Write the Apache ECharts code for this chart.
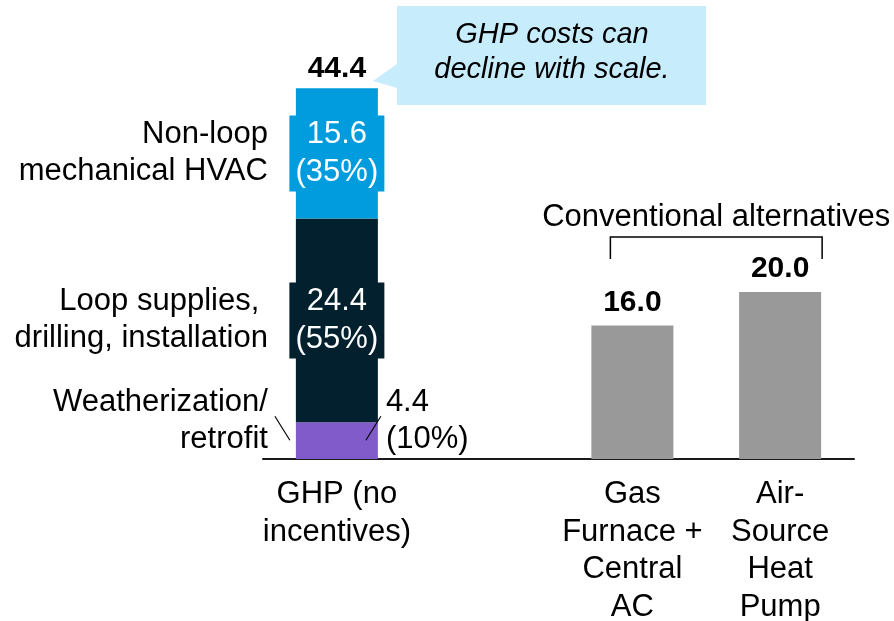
<!DOCTYPE html>
<html>
<head>
<meta charset="utf-8">
<title>GHP installed cost comparison</title>
<script src="https://cdn.jsdelivr.net/npm/echarts@6/dist/echarts.min.js"></script>
<style>
  html, body { margin: 0; padding: 0; background: #ffffff; }
  #chart { width: 894px; height: 621px; }
</style>
</head>
<body>
<div id="chart"></div>
<script>
// Installed cost by system type (thousand $)
const categories = ['GHP (no\nincentives)', '', 'Gas\nFurnace +\nCentral\nAC', 'Air-\nSource\nHeat\nPump'];
const weatherization = [4.4, '-', '-', '-'];
const loopSupplies = [24.4, '-', '-', '-'];
const nonLoopHvac = [15.6, '-', '-', '-'];
const conventional = ['-', '-', 16.0, 20.0];
const segmentNames = ['Weatherization/\nretrofit', 'Loop supplies, \ndrilling, installation', 'Non-loop\nmechanical HVAC'];

const FONT = "'Liberation Sans', Arial, Helvetica, sans-serif";
const FS = 31;
const C_PURPLE = '#805BC9';
const C_DARK = '#03202F';
const C_BLUE = '#009CDE';
const C_GRAY = '#999999';
const C_CALLOUT = '#C7EDFC';

const ghpTotal = [0, 1, 2, 3].map(i => {
  const parts = [weatherization[i], loopSupplies[i], nonLoopHvac[i]].filter(v => v !== '-');
  return parts.length ? parts.reduce((a, b) => a + b, 0) : '-';
});
const pct = (v, i) => Math.round(v / ghpTotal[i] * 100) + '%';
const zeros = ghpTotal.map(v => (v === '-' ? '-' : 0));

const chart = echarts.init(document.getElementById('chart'), null, { renderer: 'canvas' });

const common = { type: 'bar', barWidth: 82, barGap: '-100%', animation: false };

const valueBox = (color) => ({
  show: true,
  position: 'inside',
  color: '#ffffff',
  fontFamily: FONT,
  fontSize: FS,
  lineHeight: 38,
  width: 95,
  align: 'center',
  backgroundColor: color,
  padding: 0,
});

const nameLabel = (offsetY) => ({
  show: true,
  position: 'left',
  distance: 28,
  offset: [0, offsetY],
  color: '#000000',
  fontFamily: FONT,
  fontSize: FS,
  lineHeight: 37,
  align: 'right',
});

const option = {
  animation: false,
  backgroundColor: '#ffffff',
  grid: { left: 263, right: 40, top: 41.5, bottom: 162, containLabel: false, outerBoundsMode: 'none' },
  xAxis: {
    type: 'category',
    data: categories,
    axisLine: { show: true, lineStyle: { color: '#1a1a1a', width: 2 } },
    axisTick: { show: false },
    splitLine: { show: false },
    axisLabel: {
      interval: 0,
      color: '#000000',
      fontFamily: FONT,
      fontSize: FS,
      lineHeight: 37.5,
      margin: 17,
    },
  },
  yAxis: { type: 'value', min: 0, max: 50, show: false, splitLine: { show: false } },
  series: [
    {
      ...common, name: 'Weatherization/retrofit', stack: 'ghp', data: weatherization,
      itemStyle: { color: C_PURPLE },
      label: {
        show: true, position: 'right', distance: 8, offset: [0, -20],
        color: '#000000', fontFamily: FONT, fontSize: FS, lineHeight: 37, align: 'left',
        formatter: p => p.value.toFixed(1) + '\n(' + pct(p.value, p.dataIndex) + ')',
      },
    },
    {
      ...common, name: 'Loop supplies, drilling, installation', stack: 'ghp', data: loopSupplies,
      itemStyle: { color: C_DARK },
      label: { ...valueBox(C_DARK), formatter: p => p.value.toFixed(1) + '\n(' + pct(p.value, p.dataIndex) + ')' },
    },
    {
      ...common, name: 'Non-loop mechanical HVAC', stack: 'ghp', data: nonLoopHvac,
      itemStyle: { color: C_BLUE },
      label: { ...valueBox(C_BLUE), formatter: p => p.value.toFixed(1) + '\n(' + pct(p.value, p.dataIndex) + ')' },
    },
    {
      ...common, name: 'Conventional', stack: 'ghp', data: conventional,
      itemStyle: { color: C_GRAY },
      label: {
        show: true, position: 'top', distance: 8,
        color: '#000000', fontFamily: FONT, fontSize: 30, fontWeight: 'bold',
        formatter: p => p.value.toFixed(1),
      },
    },
    // Segment names, drawn as labels on transparent twins of each segment
    {
      ...common, name: 'n0', stack: 'names', data: weatherization, silent: true,
      itemStyle: { color: 'rgba(0,0,0,0)' },
      label: { ...nameLabel(-20), formatter: () => segmentNames[0] },
    },
    {
      ...common, name: 'n1', stack: 'names', data: loopSupplies, silent: true,
      itemStyle: { color: 'rgba(0,0,0,0)' },
      label: { ...nameLabel(0), formatter: () => segmentNames[1] },
    },
    {
      ...common, name: 'n2', stack: 'names', data: nonLoopHvac, silent: true,
      itemStyle: { color: 'rgba(0,0,0,0)' },
      label: { ...nameLabel(0), formatter: () => segmentNames[2] },
    },
    // GHP total on top of the stack
    {
      ...common, name: 'total', stack: 'ghp', data: zeros, silent: true,
      itemStyle: { color: 'rgba(0,0,0,0)' },
      label: {
        show: true, position: 'top', distance: 5,
        color: '#000000', fontFamily: FONT, fontSize: 30, fontWeight: 'bold',
        formatter: p => ghpTotal[p.dataIndex].toFixed(1),
      },
    },
  ],
};

chart.setOption(option);

// Annotations: leader lines, bracket over the conventional systems, callout
const px = (i, v) => chart.convertToPixel({ gridIndex: 0 }, [i, v]);
const ghpCenter = px(0, 0)[0];
const wTop = px(0, weatherization[0])[1];
const gasCenter = px(2, 0)[0];
const airCenter = px(3, 0)[0];
const bracketY = px(3, conventional[3])[1] - 55;

const lineStyle = { stroke: '#000000', lineWidth: 1.2 };

chart.setOption({
  graphic: [
    { type: 'line', z: 100, shape: { x1: ghpCenter - 62, y1: wTop - 6, x2: ghpCenter - 47, y2: wTop + 18 }, style: lineStyle, silent: true },
    { type: 'line', z: 100, shape: { x1: ghpCenter + 44, y1: wTop - 6, x2: ghpCenter + 29, y2: wTop + 18 }, style: lineStyle, silent: true },
    {
      type: 'polyline', z: 100,
      shape: { points: [[gasCenter - 22, bracketY + 22], [gasCenter - 22, bracketY], [airCenter + 42, bracketY], [airCenter + 42, bracketY + 22]] },
      style: { stroke: '#000000', lineWidth: 1.5, fill: null },
      silent: true,
    },
    {
      type: 'text', z: 100,
      x: (gasCenter - 22 + airCenter + 42) / 2,
      y: bracketY - 20,
      style: {
        text: 'Conventional alternatives',
        fontFamily: FONT, fontSize: FS, fill: '#000000',
        align: 'center', verticalAlign: 'middle',
      },
      silent: true,
    },
    {
      type: 'polygon',
      shape: { points: [[397, 6], [706, 6], [706, 105], [397, 105], [397, 88], [373, 81], [397, 64]] },
      style: { fill: C_CALLOUT },
      silent: true,
    },
    {
      type: 'text', z: 100,
      x: 552,
      y: 52,
      style: {
        text: 'GHP costs can\ndecline with scale.',
        fontFamily: FONT, fontSize: 29, fontStyle: 'italic', fill: '#000000',
        lineHeight: 35, align: 'center', verticalAlign: 'middle',
      },
      silent: true,
    },
  ],
});
</script>
</body>
</html>
